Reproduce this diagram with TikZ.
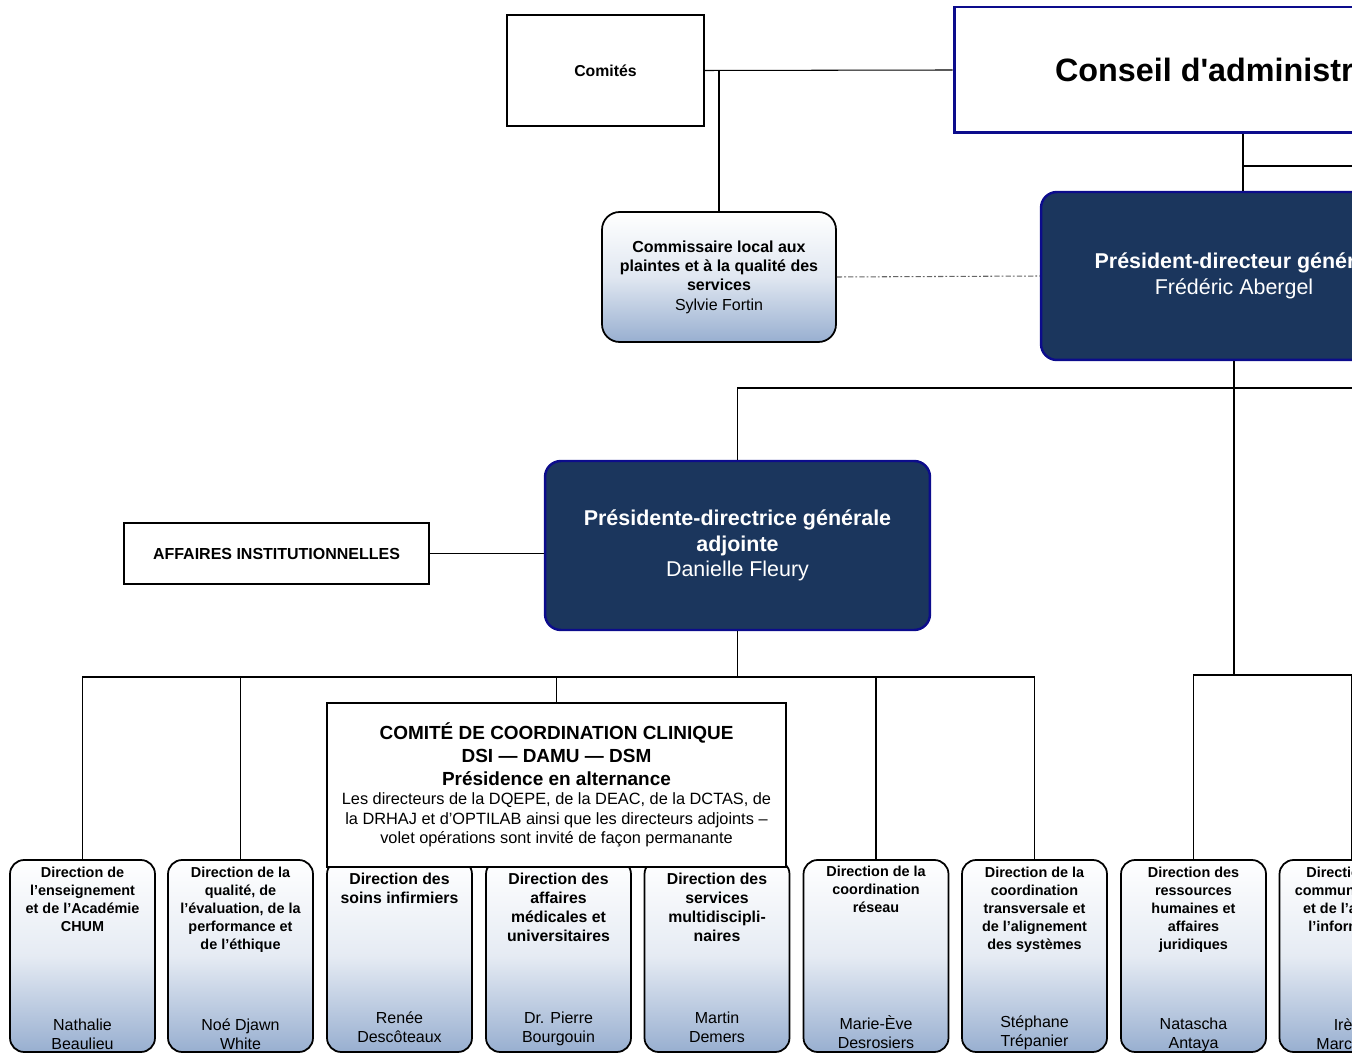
\documentclass[tikz,border=0pt]{standalone}
\usepackage{fontspec}
\setmainfont{Liberation Sans}

\definecolor{navy}{RGB}{27,54,93}
\definecolor{navyline}{RGB}{12,12,140}
\definecolor{dirblue}{RGB}{152,175,208}

\tikzset{
  plainbox/.style={draw=black, line width=.8pt, fill=white, align=center, inner sep=0pt},
  navybox/.style={draw=navyline, line width=1.4pt, fill=navy, rounded corners=9pt, text=white, align=center, font=\fontsize{12.2}{14.7}\selectfont},
  dirbox/.style={draw=black, line width=1pt, rounded corners=8pt, top color=white, bottom color=dirblue, middle color=dirblue!25!white, minimum width=2.9cm, minimum height=3.84cm},
  dirtitle/.style={anchor=north, align=center, inner sep=0pt, font=\fontsize{8.2}{10.2}\selectfont\bfseries},
  dirtitlebig/.style={anchor=north, align=center, inner sep=0pt, font=\fontsize{9}{10.8}\selectfont\bfseries},
  dirname/.style={anchor=south, align=center, inner sep=0pt, font=\fontsize{9.1}{10.8}\selectfont},
  link/.style={line width=.6pt},
}

\begin{document}
\begin{tikzpicture}[x=0.02cm, y=-0.02cm]

\useasboundingbox (0,0) rectangle (1352,1053);
\clip (0,0) rectangle (1352,1053);

% haut
\node [plainbox, minimum width=3.94cm, minimum height=2.22cm, font=\fontsize{9}{11}\selectfont\bfseries] (comites) at (605.5,70.5) {Comités};
\node [plainbox, draw=navyline, line width=1.7pt, minimum width=11.56cm, minimum height=2.52cm, font=\fontsize{18.4}{22}\selectfont\bfseries] (conseil) at (1243,70) {Conseil d\textquotesingle administration};
\node [draw=black, line width=1pt, rounded corners=10pt, top color=white, bottom color=dirblue, middle color=dirblue!30!white, minimum width=4.68cm, minimum height=2.6cm, align=center, font=\fontsize{9.1}{11}\selectfont] (commis) at (719,277) {{\bfseries Commissaire local aux}\\{\bfseries plaintes et à la qualité des}\\{\bfseries services}\\Sylvie Fortin};
\node [navybox, minimum width=7.72cm, minimum height=3.36cm] (pdg) at (1234,276) {{\bfseries Président-directeur général}\\Frédéric Abergel};

\draw [link] (comites.east) -- (conseil.west);
\draw [link] (commis.north) -- (commis.north |- comites.east);
\draw [link, gray!80!black, dash pattern=on 3pt off 1.2pt on 1pt off 1.2pt] (commis.east) -- (pdg.west);
\draw [link] (conseil.south) -- (conseil.south |- pdg.north);
\coordinate (conseilright) at (1400,166);
\draw [link] (conseil.south |- conseilright) -- (conseilright);

% adjointe
\node [navybox, minimum width=7.7cm, minimum height=3.38cm] (pdga) at (737.5,545.5) {{\bfseries Présidente-directrice générale}\\{\bfseries adjointe}\\Danielle Fleury};
\node [plainbox, minimum width=6.1cm, minimum height=1.22cm, font=\fontsize{9.1}{11}\selectfont\bfseries] (affaires) at (276.5,553.5) {AFFAIRES INSTITUTIONNELLES};

\coordinate (pdgright) at (1400,388);
\draw [link] (pdga.north) |- (pdgright);
\draw [link] (affaires.east) -- (affaires.east -| pdga.west);

% directions
\node [dirbox] (d1) at (82.5,956) {};
\node [dirbox] (d2) at (240.5,956) {};
\node [dirbox] (d3) at (399.5,956) {};
\node [dirbox] (d4) at (558.5,956) {};
\node [dirbox] (d5) at (717,956) {};
\node [dirbox] (d6) at (876,956) {};
\node [dirbox] (d7) at (1034.5,956) {};
\node [dirbox] (d8) at (1193.5,956) {};
\node [dirbox] (d9) at (1352,956) {};

\node [dirtitle, yshift=-.16cm] (d1t) at (d1.north) {Direction de\\l’enseignement\\et de l’Académie\\CHUM};
\node [dirtitle, yshift=-.16cm] (d2t) at (d2.north) {Direction de la\\qualité, de\\l’évaluation, de la\\performance et\\de l’éthique};
\node [dirtitlebig, yshift=-.28cm] (d3t) at (d3.north) {Direction des\\soins infirmiers};
\node [dirtitlebig, yshift=-.28cm] (d4t) at (d4.north) {Direction des\\affaires\\médicales et\\universitaires};
\node [dirtitlebig, yshift=-.28cm] (d5t) at (d5.north) {Direction des\\services\\multidiscipli-\\naires};
\node [dirtitle, yshift=-.14cm] (d6t) at (d6.north) {Direction de la\\coordination\\réseau};
\node [dirtitle, yshift=-.16cm] (d7t) at (d7.north) {Direction de la\\coordination\\transversale et\\de l’alignement\\des systèmes};
\node [dirtitle, yshift=-.16cm] (d8t) at (d8.north) {Direction des\\ressources\\humaines et\\affaires\\juridiques};
\node [dirtitle, yshift=-.16cm] (d9t) at (d9.north) {Direction des\\communications\\et de l’accès à\\l’information};

\node [dirname, yshift=.06cm] (d1n) at (d1.south) {Nathalie\\Beaulieu};
\node [dirname, yshift=.06cm] (d2n) at (d2.south) {Noé Djawn\\White};
\node [dirname, yshift=.2cm] (d3n) at (d3.south) {Renée\\Descôteaux};
\node [dirname, yshift=.14cm] (d4n) at (d4.south) {Dr. Pierre\\Bourgouin};
\node [dirname, yshift=.2cm] (d5n) at (d5.south) {Martin\\Demers};
\node [dirname, yshift=.07cm] (d6n) at (d6.south) {Marie-Ève\\Desrosiers};
\node [dirname, yshift=.06cm] (d7n) at (d7.south) {Stéphane\\Trépanier};
\node [dirname, yshift=.02cm] (d8n) at (d8.south) {Natascha\\Antaya};
\node [dirname, yshift=.06cm] (d9n) at (d9.south) {Irène\\Marchand};

% comite clinique, par dessus
\node [plainbox, minimum width=9.18cm, minimum height=3.28cm, font=\fontsize{9.3}{11}\selectfont] (comite) at (556.5,785) {{\fontsize{10.8}{13}\selectfont\bfseries COMITÉ DE COORDINATION CLINIQUE}\\[2pt]{\fontsize{10.8}{13}\selectfont\bfseries DSI — DAMU — DSM}\\[2pt]{\fontsize{10.8}{13}\selectfont\bfseries Présidence en alternance}\\Les directeurs de la DQEPE, de la DEAC, de la DCTAS, de\\la DRHAJ et d’OPTILAB ainsi que les directeurs adjoints –\\volet opérations sont invité de façon permanante};

\coordinate (bus) at (737.5,677);
\draw [link] (pdga.south) -- (bus);
\draw [link] (d1.north) |- (bus);
\draw [link] (d7.north) |- (bus);
\draw [link] (d2.north) -- (d2.north |- bus);
\draw [link] (comite.north) -- (comite.north |- bus);
\draw [link] (d6.north) -- (d6.north |- bus);

\coordinate (bus2) at (1234,675);
\draw [line width=1.1pt] (pdg.south) -- (bus2);
\draw [link] (d8.north) |- (d9.north |- bus2) -- (d9.north);

\end{tikzpicture}
\end{document}
